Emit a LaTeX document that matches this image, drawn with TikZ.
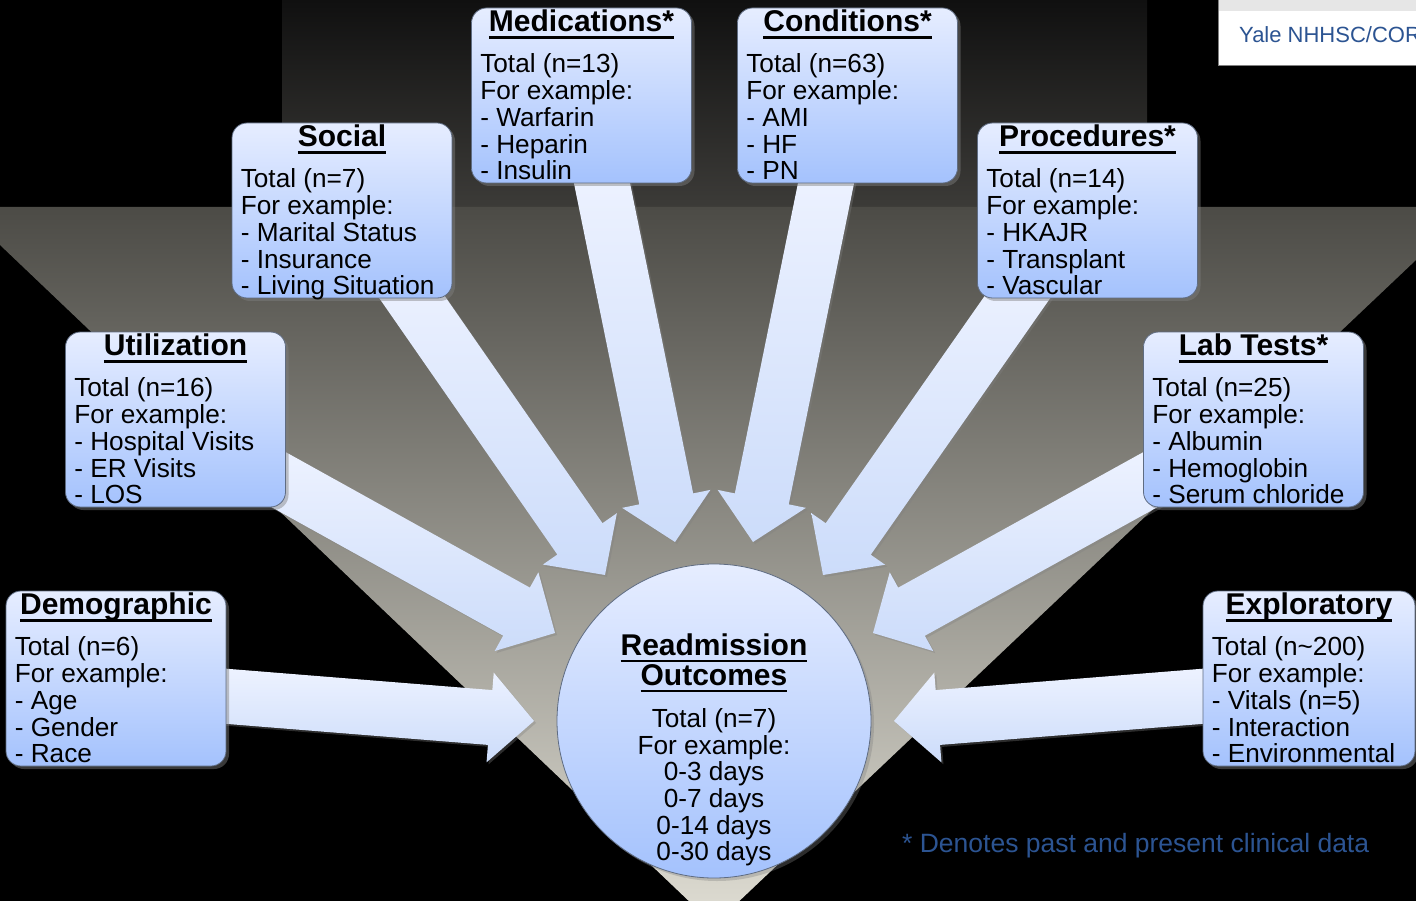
\documentclass[tikz,border=0pt]{standalone}
\usepackage{fontspec}
\setmainfont{Liberation Sans}
\usepackage{tikz}
\usetikzlibrary{calc, shadows}

\definecolor{stagetop}{RGB}{16,16,16}
\definecolor{stagebot}{RGB}{60,59,56}
\definecolor{fantop}{RGB}{76,75,70}
\definecolor{fanmid}{RGB}{168,166,158}
\definecolor{fanbot}{RGB}{224,222,212}
\definecolor{boxtop}{RGB}{230,237,255}
\definecolor{boxbot}{RGB}{164,194,253}
\definecolor{boxline}{RGB}{95,108,130}
\definecolor{arrowtop}{RGB}{237,242,255}
\definecolor{arrowbot}{RGB}{204,220,250}
\definecolor{noteblue}{RGB}{44,84,146}
\definecolor{yalegray}{RGB}{230,230,230}

\newsavebox{\headbox}
\newcommand{\headline}[1]{\sbox{\headbox}{#1}\rlap{\rule[-0.235em]{\wd\headbox}{0.085em}}\usebox{\headbox}}

% fat arrow from #1 (tail) to #2 (tip)
\newcommand{\bigarrow}[2]{%
  \coordinate (ah) at ($(#2)!44pt!(#1)$);
  \path[fatarrow] ($(#1)!27.5pt!90:(#2)$) -- ($(ah)!27.5pt!90:(#2)$)
    -- ($(ah)!45pt!90:(#2)$) -- (#2) -- ($(ah)!45pt!-90:(#2)$)
    -- ($(ah)!27.5pt!-90:(#2)$) -- ($(#1)!27.5pt!-90:(#2)$) -- cycle;}

\pgfdeclarelayer{bg}
\pgfdeclarelayer{arrows}
\pgfsetlayers{bg,arrows,main}

\begin{document}
\begin{tikzpicture}[x=1pt, y=-1pt,
  catbox/.style={draw=boxline, line width=0.8pt, rounded corners=15pt,
    top color=boxtop, bottom color=boxbot, inner sep=0pt,
    minimum width=220pt, minimum height=175pt,
    drop shadow={opacity=0.45, shadow xshift=3pt, shadow yshift=-3pt}},
  cathead/.style={anchor=base, inner sep=0pt, font=\fontsize{30}{30}\selectfont\bfseries},
  catlist/.style={anchor=north west, inner sep=0pt, align=left, font=\fontsize{26.2}{26.7}\selectfont},
  fatarrow/.style={top color=arrowtop, bottom color=arrowbot,
    drop shadow={opacity=0.35, shadow xshift=2pt, shadow yshift=-2pt}},
  note/.style={inner sep=0pt, anchor=base west, text=noteblue}]

  \useasboundingbox (0,0) rectangle (1416,901);

  % backdrop
  \begin{pgfonlayer}{bg}
    \fill[black] (0,0) rectangle (1416,901);
    \shade[top color=stagetop, bottom color=stagebot] (282,0) rectangle (1147,207);
    \shade[top color=fantop, middle color=fanmid, bottom color=fanbot]
      (0,207) -- (1416,207) -- (1416,260) -- (714,925) -- (0,245) -- cycle;
  \end{pgfonlayer}

  % Demographic
  \node[catbox] (demo) at (116,678.5) {};
  \node[cathead] (demo-h) at ([yshift=-24pt]demo.north) {\headline{Demographic}};
  \node[catlist] (demo-l) at ([xshift=9pt,yshift=-46.2pt]demo.north west)
    {Total (n=6)\\For example:\\- Age\\- Gender\\- Race};

  % Utilization
  \node[catbox] (util) at (175.5,419.5) {};
  \node[cathead] (util-h) at ([yshift=-24pt]util.north) {\headline{Utilization}};
  \node[catlist] (util-l) at ([xshift=9pt,yshift=-46.2pt]util.north west)
    {Total (n=16)\\For example:\\- Hospital Visits\\- ER Visits\\- LOS};

  % Social
  \node[catbox] (social) at (342,210.5) {};
  \node[cathead] (social-h) at ([yshift=-24pt]social.north) {\headline{Social}};
  \node[catlist] (social-l) at ([xshift=9pt,yshift=-46.2pt]social.north west)
    {Total (n=7)\\For example:\\- Marital Status\\- Insurance\\- Living Situation};

  % Medications
  \node[catbox] (med) at (581.5,95.5) {};
  \node[cathead] (med-h) at ([yshift=-24pt]med.north) {\headline{Medications*}};
  \node[catlist] (med-l) at ([xshift=9pt,yshift=-46.2pt]med.north west)
    {Total (n=13)\\For example:\\- Warfarin\\- Heparin\\- Insulin};

  % Conditions
  \node[catbox] (cond) at (847.5,95.5) {};
  \node[cathead] (cond-h) at ([yshift=-24pt]cond.north) {\headline{Conditions*}};
  \node[catlist] (cond-l) at ([xshift=9pt,yshift=-46.2pt]cond.north west)
    {Total (n=63)\\For example:\\- AMI\\- HF\\- PN};

  % Procedures
  \node[catbox] (proc) at (1087.5,210.5) {};
  \node[cathead] (proc-h) at ([yshift=-24pt]proc.north) {\headline{Procedures*}};
  \node[catlist] (proc-l) at ([xshift=9pt,yshift=-46.2pt]proc.north west)
    {Total (n=14)\\For example:\\- HKAJR\\- Transplant\\- Vascular};

  % Lab Tests
  \node[catbox] (lab) at (1253.5,419.5) {};
  \node[cathead] (lab-h) at ([yshift=-24pt]lab.north) {\headline{Lab Tests*}};
  \node[catlist] (lab-l) at ([xshift=9pt,yshift=-46.2pt]lab.north west)
    {Total (n=25)\\For example:\\- Albumin\\- Hemoglobin\\- Serum chloride};

  % Exploratory
  \node[catbox, minimum width=212pt] (expl) at (1309,678.5) {};
  \node[cathead] (expl-h) at ([yshift=-24pt]expl.north) {\headline{Exploratory}};
  \node[catlist] (expl-l) at ([xshift=9pt,yshift=-46.2pt]expl.north west)
    {Total (n\textasciitilde200)\\For example:\\- Vitals (n=5)\\- Interaction\\- Environmental};

  % Readmission outcomes
  \node[circle, draw=boxline, line width=0.8pt, top color=boxtop, bottom color=boxbot,
    minimum size=314pt, inner sep=0pt,
    drop shadow={opacity=0.35, shadow xshift=3pt, shadow yshift=-3pt}] (outcome) at (714,721) {};
  \node[cathead, anchor=north, align=center] (outcome-h) at ([yshift=87.5pt]outcome.center)
    {\headline{Readmission}\\\headline{Outcomes}};
  \node[catlist, anchor=north, align=center] (outcome-l) at ([yshift=12.8pt]outcome.center)
    {Total (n=7)\\For example:\\0-3 days\\0-7 days\\0-14 days\\0-30 days};

  % arrows into the circle
  \begin{pgfonlayer}{arrows}
    \coordinate (demo-a) at ([xshift=-10pt,yshift=-17pt]demo.east);
    \coordinate (demo-b) at ($(outcome.center)+(-180,0)$);
    \bigarrow{demo-a}{demo-b}
    \coordinate (util-a) at ([xshift=-16pt,yshift=-55.3pt]util.east);
    \coordinate (util-b) at ($(outcome.center)+(-159,-88)$);
    \bigarrow{util-a}{util-b}
    \coordinate (social-a) at ([xshift=57pt,yshift=20pt]social.south);
    \coordinate (social-b) at ($(outcome.center)+(-109,-146)$);
    \bigarrow{social-a}{social-b}
    \coordinate (med-a) at ([xshift=18.5pt,yshift=10pt]med.south);
    \coordinate (med-b) at ($(outcome.center)+(-39,-179)$);
    \bigarrow{med-a}{med-b}
    \coordinate (cond-a) at ([xshift=-19.5pt,yshift=10pt]cond.south);
    \coordinate (cond-b) at ($(outcome.center)+(39,-179)$);
    \bigarrow{cond-a}{cond-b}
    \coordinate (proc-a) at ([xshift=-57pt,yshift=20pt]proc.south);
    \coordinate (proc-b) at ($(outcome.center)+(109,-146)$);
    \bigarrow{proc-a}{proc-b}
    \coordinate (lab-a) at ([xshift=16pt,yshift=-55.3pt]lab.west);
    \coordinate (lab-b) at ($(outcome.center)+(159,-88)$);
    \bigarrow{lab-a}{lab-b}
    \coordinate (expl-a) at ([xshift=10pt,yshift=-17pt]expl.west);
    \coordinate (expl-b) at ($(outcome.center)+(180,0)$);
    \bigarrow{expl-a}{expl-b}
  \end{pgfonlayer}

  % footnote
  \node[note, font=\fontsize{26.5}{26.5}\selectfont] (footnote) at (902,852)
    {* Denotes past and present clinical data};

  % corner tag
  \fill[white] (1218,0) rectangle (1416,66);
  \fill[yalegray] (1218,0) rectangle (1416,11);
  \draw[gray, line width=1pt] (1218,0) -- (1218,66) -- (1416,66);
  \node[note, font=\fontsize{22}{22}\selectfont] (yale) at (1239,43) {Yale NHHSC/COR};
\end{tikzpicture}
\end{document}
